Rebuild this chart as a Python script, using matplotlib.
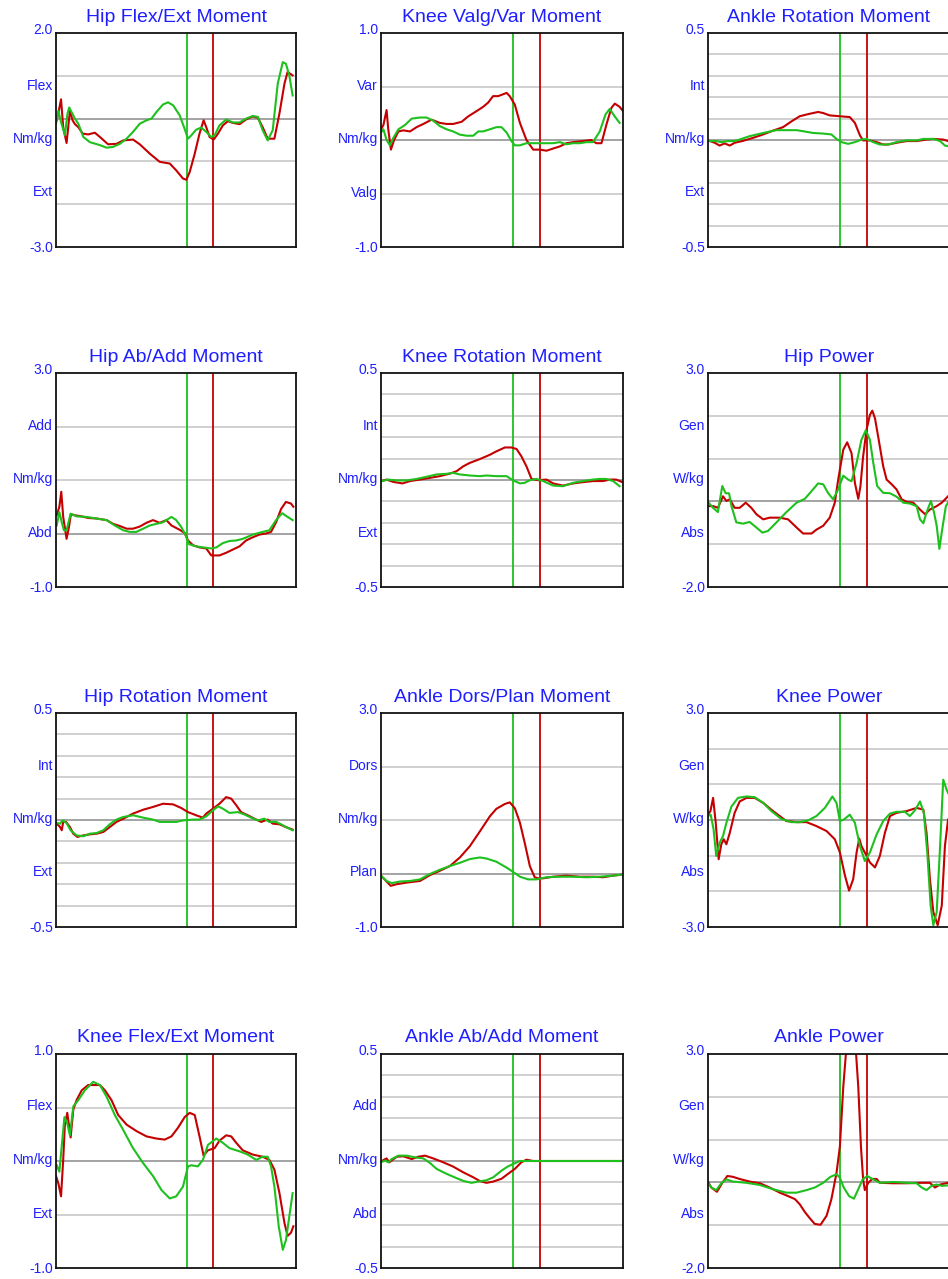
import matplotlib
matplotlib.use("Agg")
import matplotlib.pyplot as plt

plt.rcParams["font.family"] = ["Liberation Sans", "DejaVu Sans"]

RED = "#c40000"
GREEN = "#1ec01e"
BLUE = "#1e1eff"

# gait events, % of cycle
OPP_FOOT_OFF = 54.7
FOOT_OFF = 65.5

# ---- Hip Flex/Ext Moment ----
hfe_xr = [0.3, 1.2, 2.1, 3.0, 4.4, 5.1, 5.8, 6.9, 7.9, 9.3, 11.1, 13.4, 16.2, 18.3, 21.7, 25.2, 28.0, 32.1, 34.9,
          39.1, 43.2, 47.4, 50.1, 52.9, 54.3, 55.7, 57.8, 59.8, 61.5, 62.6, 64.0, 65.7, 67.5, 69.5, 71.6, 73.7,
          76.5, 79.2, 82.0, 84.1, 86.1, 88.2, 91.0, 93.1, 95.2, 96.5, 98.6]
hfe_r = [-0.04, 0.19, 0.45, -0.20, -0.57, -0.20, 0.19, -0.04, -0.13, -0.20, -0.35, -0.37, -0.33, -0.43, -0.60,
         -0.59, -0.51, -0.49, -0.60, -0.82, -1.01, -1.05, -1.21, -1.40, -1.43, -1.25, -0.82, -0.35, -0.04, -0.20,
         -0.43, -0.49, -0.35, -0.16, -0.06, -0.10, -0.13, -0.02, 0.05, 0.02, -0.20, -0.47, -0.47, 0.12, 0.82,
         1.09, 1.01]
hfe_xg = [0.0, 1.0, 1.9, 3.7, 4.8, 5.5, 6.5, 7.9, 9.3, 11.4, 14.1, 18.3, 21.1, 23.8, 26.6, 29.4, 32.1, 34.9, 37.7,
          39.8, 41.8, 44.6, 46.7, 48.8, 51.5, 53.6, 55.0, 56.4, 58.4, 60.5, 62.6, 64.7, 66.1, 68.1, 70.9, 73.7,
          76.5, 79.2, 82.0, 84.1, 86.1, 88.2, 90.3, 92.4, 94.5, 95.8, 97.2, 98.6]
hfe_g = [-0.12, 0.18, -0.04, -0.39, 0.12, 0.26, 0.15, 0.00, -0.12, -0.43, -0.55, -0.62, -0.68, -0.66, -0.59,
         -0.47, -0.31, -0.12, -0.04, 0.00, 0.15, 0.33, 0.38, 0.31, 0.08, -0.24, -0.47, -0.39, -0.26, -0.21, -0.31,
         -0.43, -0.39, -0.16, -0.02, -0.09, -0.09, 0.00, 0.06, 0.04, -0.27, -0.51, -0.27, 0.82, 1.32, 1.28, 1.01,
         0.54]

# ---- Knee Valg/Var Moment ----
kvv_xr = [0.0, 1.0, 2.3, 3.0, 4.1, 5.4, 7.2, 9.2, 12.0, 14.7, 17.5, 20.9, 24.3, 27.1, 29.8, 33.3, 36.0, 39.5,
          42.2, 44.3, 46.3, 48.4, 51.9, 53.2, 55.3, 57.4, 60.1, 62.9, 65.6, 68.4, 71.1, 73.9, 76.6, 79.4, 83.5,
          86.9, 89.0, 91.1, 93.1, 95.2, 96.6, 98.6, 100.0]
kvv_r = [0.10, 0.14, 0.28, 0.10, -0.09, 0.00, 0.08, 0.09, 0.08, 0.12, 0.15, 0.19, 0.16, 0.15, 0.15, 0.17, 0.22,
         0.27, 0.31, 0.35, 0.41, 0.41, 0.44, 0.41, 0.33, 0.16, 0.00, -0.09, -0.09, -0.10, -0.08, -0.06, -0.03,
         -0.02, -0.01, 0.00, -0.03, -0.03, 0.14, 0.30, 0.34, 0.31, 0.27]
kvv_xg = [0.0, 1.0, 2.3, 3.7, 5.1, 7.2, 9.9, 12.7, 16.1, 18.8, 21.6, 24.3, 27.1, 29.8, 32.6, 35.4, 38.1, 40.2,
          42.2, 45.0, 47.7, 49.8, 51.9, 53.9, 55.3, 57.4, 60.1, 62.9, 65.6, 68.4, 71.1, 73.9, 76.6, 79.4, 82.1,
          84.9, 87.6, 90.4, 92.8, 94.5, 96.6, 98.6]
kvv_g = [0.07, 0.10, 0.00, -0.05, 0.02, 0.10, 0.14, 0.20, 0.21, 0.21, 0.18, 0.13, 0.10, 0.08, 0.05, 0.04, 0.04,
         0.08, 0.08, 0.10, 0.12, 0.12, 0.07, -0.01, -0.05, -0.05, -0.03, -0.03, -0.03, -0.03, -0.03, -0.02, -0.04,
         -0.03, -0.03, -0.02, -0.02, 0.08, 0.24, 0.29, 0.22, 0.16]

# ---- Ankle Rotation Moment ----
arm_xr = [0.0, 2.8, 4.8, 6.9, 9.0, 11.0, 14.5, 18.6, 22.8, 26.9, 31.0, 34.5, 37.9, 41.4, 45.5, 47.6, 50.3, 54.5,
          58.6, 60.7, 62.8, 64.1, 66.9, 69.7, 72.4, 74.5, 77.9, 82.1, 86.2, 90.3, 93.1, 97.2, 99.2]
arm_r = [-0.002, -0.013, -0.026, -0.016, -0.026, -0.013, -0.004, 0.010, 0.026, 0.044, 0.060, 0.087, 0.111, 0.121,
         0.131, 0.126, 0.115, 0.111, 0.107, 0.080, 0.021, -0.002, -0.002, -0.010, -0.021, -0.021, -0.013, -0.005,
         -0.005, 0.002, 0.005, 0.002, -0.005]
arm_xg = [0.0, 3.4, 5.5, 8.3, 11.0, 13.8, 17.2, 21.4, 24.1, 28.3, 32.4, 36.6, 39.3, 43.4, 47.6, 51.0, 53.1, 55.2,
          57.9, 60.7, 63.4, 65.5, 68.3, 71.0, 74.5, 77.9, 82.1, 86.2, 89.0, 93.1, 95.9, 97.9, 99.2]
arm_g = [-0.005, -0.005, -0.010, -0.005, -0.005, 0.005, 0.018, 0.029, 0.036, 0.046, 0.046, 0.046, 0.041, 0.033,
         0.030, 0.026, 0.005, -0.010, -0.018, -0.010, 0.002, 0.005, -0.010, -0.021, -0.021, -0.010, -0.002,
         -0.002, 0.005, 0.005, -0.005, -0.026, -0.029]

# ---- Hip Ab/Add Moment ----
haa_xr = [0.3, 1.4, 2.2, 3.0, 4.4, 5.4, 6.2, 7.9, 10.7, 13.4, 16.9, 21.1, 23.8, 26.6, 29.4, 32.1, 34.9, 37.7,
          40.4, 43.2, 46.0, 48.1, 51.5, 53.6, 55.0, 57.1, 59.8, 62.6, 64.7, 68.1, 70.9, 73.7, 76.5, 79.2, 82.0,
          84.8, 87.5, 89.6, 91.7, 93.8, 95.8, 97.9, 98.9]
haa_r = [0.34, 0.50, 0.78, 0.31, -0.10, 0.12, 0.36, 0.34, 0.32, 0.29, 0.28, 0.25, 0.18, 0.14, 0.09, 0.09, 0.13,
         0.20, 0.25, 0.20, 0.25, 0.15, 0.07, 0.01, -0.13, -0.22, -0.26, -0.28, -0.41, -0.41, -0.36, -0.30, -0.24,
         -0.13, -0.07, -0.02, 0.00, 0.03, 0.21, 0.46, 0.59, 0.56, 0.50]
haa_xg = [0.3, 1.4, 2.4, 3.3, 4.4, 6.1, 8.6, 12.7, 16.9, 21.1, 24.5, 28.0, 30.7, 33.5, 36.3, 39.1, 41.8, 44.6,
          48.1, 50.1, 52.2, 54.0, 55.4, 58.4, 61.2, 64.7, 66.8, 69.5, 72.3, 75.1, 77.8, 82.0, 86.1, 88.9, 91.7,
          94.2, 96.5, 98.6]
haa_g = [0.15, 0.40, 0.21, 0.06, 0.06, 0.37, 0.32, 0.31, 0.28, 0.25, 0.15, 0.06, 0.03, 0.03, 0.09, 0.15, 0.18,
         0.21, 0.31, 0.25, 0.12, -0.03, -0.20, -0.24, -0.26, -0.28, -0.26, -0.18, -0.14, -0.13, -0.10, -0.02, 0.03,
         0.06, 0.25, 0.38, 0.31, 0.25]

# ---- Knee Rotation Moment ----
krm_xr = [0.3, 2.3, 5.1, 8.9, 12.0, 16.1, 20.2, 24.3, 28.5, 31.2, 34.0, 36.7, 40.9, 45.0, 47.7, 51.2, 53.9, 56.0,
          58.0, 60.1, 62.2, 64.9, 68.4, 71.1, 75.2, 79.4, 83.5, 87.6, 91.7, 94.5, 97.2, 99.7]
krm_r = [-0.005, 0.002, -0.009, -0.016, -0.005, 0.002, 0.010, 0.018, 0.030, 0.041, 0.064, 0.080, 0.098, 0.118,
         0.134, 0.152, 0.152, 0.145, 0.111, 0.064, 0.005, -0.001, 0.002, -0.016, -0.026, -0.016, -0.010, -0.005,
         -0.005, 0.002, 0.002, -0.010]
krm_xg = [0.3, 3.0, 6.5, 10.6, 14.7, 18.8, 23.0, 27.1, 29.8, 32.6, 36.7, 40.9, 43.6, 47.7, 51.9, 54.6, 57.4, 59.4,
          61.5, 64.2, 67.0, 71.1, 75.2, 79.4, 83.5, 87.6, 90.4, 93.1, 95.9, 98.6]
krm_g = [-0.005, 0.002, -0.002, -0.002, 0.005, 0.015, 0.026, 0.029, 0.033, 0.026, 0.021, 0.018, 0.021, 0.018,
         0.018, -0.002, -0.016, -0.013, -0.001, 0.005, -0.005, -0.026, -0.029, -0.013, -0.005, 0.002, 0.005, 0.005,
         -0.005, -0.029]

# ---- Hip Power ----
hpw_xr = [0.0, 2.1, 4.1, 6.2, 7.6, 9.0, 11.0, 13.1, 15.6, 17.9, 20.0, 22.8, 25.5, 29.7, 33.1, 36.6, 39.3, 42.8,
          44.8, 47.6, 50.3, 52.4, 53.8, 55.9, 57.5, 59.3, 60.7, 62.1, 63.0, 64.1, 65.5, 66.9, 67.9, 69.0, 70.3,
          72.4, 73.8, 75.9, 77.9, 80.0, 82.1, 84.8, 87.6, 89.7, 91.7, 94.5, 96.6, 99.2]
hpw_r = [-0.11, -0.11, -0.15, 0.12, 0.01, 0.05, -0.15, -0.15, -0.03, -0.15, -0.30, -0.42, -0.38, -0.38, -0.42,
         -0.61, -0.75, -0.75, -0.66, -0.57, -0.38, -0.03, 0.51, 1.21, 1.38, 1.13, 0.43, 0.06, 0.36, 1.05, 1.67, 2.02,
         2.12, 1.94, 1.52, 0.82, 0.51, 0.40, 0.28, 0.05, -0.01, -0.03, -0.19, -0.30, -0.19, -0.11, -0.03, 0.12]
hpw_xg = [0.0, 2.1, 4.1, 5.9, 7.3, 8.7, 9.7, 11.7, 14.5, 17.2, 20.0, 22.5, 24.8, 28.3, 32.4, 36.6, 40.0, 42.8,
          45.5, 47.6, 49.7, 51.7, 53.8, 55.9, 57.9, 59.3, 61.4, 63.4, 65.2, 66.9, 68.3, 69.9, 72.4, 75.2, 77.9,
          80.7, 83.4, 86.2, 87.6, 89.0, 90.3, 92.1, 93.4, 94.5, 95.6, 97.0, 98.3, 99.2]
hpw_g = [-0.01, -0.15, -0.25, 0.36, 0.19, 0.19, -0.11, -0.49, -0.52, -0.48, -0.61, -0.73, -0.69, -0.49, -0.25,
         -0.03, 0.06, 0.24, 0.42, 0.40, 0.19, 0.05, 0.28, 0.60, 0.51, 0.47, 0.90, 1.44, 1.66, 1.44, 0.90, 0.36, 0.20,
         0.19, 0.11, -0.03, -0.05, -0.11, -0.42, -0.51, -0.26, 0.01, -0.26, -0.57, -1.11, -0.57, -0.11, -0.03]

# ---- Hip Rotation Moment ----
hrm_xr = [0.3, 1.7, 2.4, 3.0, 4.2, 5.8, 7.2, 8.9, 11.4, 14.1, 16.9, 19.7, 22.4, 25.2, 28.0, 32.1, 36.3, 40.4,
          44.6, 48.8, 52.2, 55.0, 58.4, 61.2, 62.6, 65.4, 68.1, 70.9, 73.0, 75.1, 77.1, 79.9, 82.7, 85.5, 88.2,
          90.3, 93.1, 95.8, 98.6]
hrm_r = [-0.017, -0.033, -0.048, -0.009, -0.009, -0.033, -0.064, -0.079, -0.072, -0.067, -0.064, -0.056, -0.033,
         -0.009, 0.006, 0.030, 0.048, 0.061, 0.076, 0.073, 0.056, 0.037, 0.022, 0.011, 0.030, 0.053, 0.076, 0.107,
         0.100, 0.069, 0.037, 0.022, 0.006, -0.009, 0.002, -0.017, -0.020, -0.033, -0.045]
hrm_xg = [0.3, 1.7, 2.8, 4.4, 6.1, 8.6, 11.4, 14.1, 16.9, 19.7, 22.4, 25.2, 28.0, 32.1, 36.3, 40.4, 43.2, 47.4,
          50.1, 52.9, 57.1, 59.8, 62.6, 65.4, 67.5, 69.5, 72.3, 75.8, 78.5, 81.3, 84.1, 86.8, 88.9, 91.7, 93.8,
          95.8, 98.6]
hrm_g = [-0.014, -0.017, -0.002, -0.014, -0.048, -0.072, -0.076, -0.064, -0.061, -0.048, -0.020, 0.002, 0.014,
         0.022, 0.011, 0.002, -0.009, -0.009, -0.009, -0.002, 0.002, 0.002, 0.017, 0.045, 0.064, 0.053, 0.033,
         0.037, 0.026, 0.011, -0.002, 0.006, -0.009, -0.009, -0.020, -0.033, -0.048]

# ---- Ankle Dors/Plan Moment ----
adp_xr = [0.0, 2.3, 4.0, 6.5, 10.6, 16.1, 20.2, 24.3, 28.5, 32.6, 36.7, 40.9, 45.0, 47.7, 51.2, 53.2, 55.3, 57.4,
          59.4, 61.5, 63.5, 64.9, 67.0, 71.1, 76.6, 82.1, 87.6, 91.7, 95.9, 99.7]
adp_r = [-0.04, -0.15, -0.23, -0.20, -0.17, -0.14, -0.03, 0.05, 0.14, 0.30, 0.51, 0.79, 1.07, 1.21, 1.30, 1.33,
         1.22, 0.95, 0.57, 0.14, -0.07, -0.09, -0.09, -0.06, -0.04, -0.06, -0.06, -0.07, -0.04, -0.02]
adp_xg = [0.0, 2.3, 4.4, 7.8, 12.0, 16.1, 20.2, 24.3, 28.5, 32.6, 36.7, 40.9, 43.6, 47.7, 51.9, 54.6, 57.4, 60.8,
          64.2, 68.4, 73.9, 79.4, 84.9, 90.4, 95.9, 99.7]
adp_g = [-0.04, -0.14, -0.18, -0.15, -0.14, -0.11, -0.01, 0.07, 0.14, 0.20, 0.27, 0.30, 0.28, 0.22, 0.11, 0.03,
         -0.06, -0.11, -0.11, -0.07, -0.06, -0.06, -0.07, -0.06, -0.04, -0.02]

# ---- Knee Power ----
kpw_xr = [0.0, 1.0, 2.1, 3.2, 4.4, 5.5, 6.5, 7.6, 9.0, 11.0, 13.1, 15.9, 19.3, 22.8, 26.9, 32.4, 36.6, 40.7,
          44.8, 49.0, 52.4, 54.5, 56.6, 58.3, 60.0, 61.4, 62.5, 63.4, 64.8, 66.9, 69.0, 71.0, 73.1, 75.2, 77.9,
          82.1, 86.2, 89.0, 90.3, 91.7, 93.1, 94.9, 96.6, 97.9, 99.2]
kpw_r = [0.15, 0.25, 0.62, -0.08, -1.10, -0.68, -0.54, -0.68, -0.36, 0.20, 0.52, 0.62, 0.62, 0.48, 0.25, -0.03,
         -0.06, -0.06, -0.17, -0.31, -0.54, -0.91, -1.56, -1.98, -1.66, -0.91, -0.52, -0.73, -0.91, -1.19, -1.33,
         -1.01, -0.36, 0.11, 0.20, 0.25, 0.34, 0.29, -0.36, -1.66, -2.58, -2.95, -2.40, -0.73, 0.01]
kpw_xg = [0.0, 1.1, 2.3, 3.4, 4.8, 6.2, 7.6, 9.7, 12.4, 15.9, 19.3, 22.8, 26.2, 30.3, 34.5, 37.9, 41.4, 44.8,
          48.3, 51.4, 53.1, 54.5, 56.1, 58.6, 60.7, 62.8, 64.8, 66.9, 69.7, 72.4, 75.2, 77.9, 81.4, 83.4, 85.5,
          87.6, 89.2, 90.6, 92.0, 93.1, 94.5, 95.9, 97.2, 98.6, 99.2]
kpw_g = [0.11, 0.15, -0.26, -1.01, -0.64, -0.45, -0.08, 0.38, 0.62, 0.66, 0.64, 0.48, 0.25, 0.03, -0.06, -0.06,
         -0.01, 0.11, 0.34, 0.66, 0.48, -0.03, 0.01, 0.15, -0.08, -0.73, -1.15, -0.91, -0.40, -0.03, 0.18, 0.23,
         0.23, 0.11, 0.27, 0.52, 0.20, -0.91, -2.40, -2.95, -2.58, -0.73, 1.13, 0.85, 0.76]

# ---- Knee Flex/Ext Moment ----
kfe_xr = [0.0, 1.0, 2.1, 3.0, 3.7, 4.7, 6.1, 7.2, 8.6, 10.7, 13.4, 16.2, 18.3, 20.4, 23.1, 25.9, 29.4, 33.5,
          37.7, 41.8, 45.3, 48.1, 50.8, 53.6, 55.7, 57.8, 59.8, 61.5, 63.3, 66.1, 68.1, 70.9, 73.0, 75.1, 77.8,
          82.0, 86.1, 88.9, 91.0, 93.1, 95.2, 96.5, 97.9, 98.9]
kfe_r = [-0.14, -0.21, -0.33, 0.01, 0.34, 0.45, 0.22, 0.48, 0.57, 0.66, 0.71, 0.71, 0.71, 0.66, 0.57, 0.43, 0.34,
         0.28, 0.23, 0.21, 0.20, 0.23, 0.31, 0.41, 0.45, 0.43, 0.23, 0.05, 0.10, 0.12, 0.19, 0.24, 0.23, 0.17, 0.10,
         0.06, 0.04, 0.01, -0.08, -0.30, -0.58, -0.70, -0.67, -0.61]
kfe_xg = [0.3, 1.4, 2.4, 3.5, 4.7, 5.8, 7.2, 9.3, 12.0, 15.5, 18.3, 21.1, 24.5, 28.0, 32.1, 36.3, 40.4, 43.9,
          47.4, 50.1, 52.9, 55.0, 56.4, 59.1, 61.2, 63.3, 66.8, 69.5, 72.3, 76.5, 79.9, 83.4, 86.1, 88.2, 89.6,
          91.0, 92.8, 94.5, 95.8, 97.2, 98.6]
kfe_g = [-0.04, -0.10, 0.14, 0.41, 0.35, 0.24, 0.51, 0.57, 0.66, 0.74, 0.71, 0.60, 0.43, 0.29, 0.12, -0.02, -0.14,
         -0.27, -0.35, -0.33, -0.24, -0.05, -0.04, -0.05, 0.01, 0.15, 0.21, 0.17, 0.12, 0.09, 0.06, 0.01, 0.04,
         0.04, -0.05, -0.24, -0.61, -0.83, -0.74, -0.52, -0.30]

# ---- Ankle Ab/Add Moment ----
aaa_xr = [0.0, 1.7, 2.3, 3.4, 6.5, 9.2, 12.7, 15.4, 18.2, 21.6, 25.7, 29.8, 34.0, 38.1, 40.9, 43.6, 46.4, 49.8,
          52.5, 55.3, 58.0, 60.1, 62.9, 68.4, 78.0, 89.0, 99.7]
aaa_r = [-0.003, 0.009, 0.012, -0.006, 0.020, 0.022, 0.009, 0.020, 0.025, 0.012, -0.006, -0.026, -0.053, -0.076,
         -0.094, -0.102, -0.096, -0.083, -0.060, -0.037, -0.006, 0.006, 0.0, 0.0, 0.0, 0.0, 0.0]
aaa_xg = [0.0, 1.7, 3.0, 4.4, 7.2, 10.6, 14.0, 17.5, 20.2, 23.0, 27.1, 31.2, 34.0, 37.4, 40.2, 43.6, 46.4, 49.8,
          52.5, 54.6, 57.4, 60.1, 71.1, 84.9, 99.7]
aaa_g = [-0.006, 0.002, -0.006, 0.009, 0.025, 0.025, 0.017, 0.012, -0.009, -0.037, -0.060, -0.080, -0.093, -0.102,
         -0.096, -0.090, -0.076, -0.045, -0.025, -0.014, 0.0, 0.0, 0.0, 0.0, 0.0]

# ---- Ankle Power ----
apw_xr = [0.0, 1.4, 3.7, 5.9, 8.0, 10.3, 13.1, 17.2, 21.4, 25.5, 29.7, 33.1, 35.9, 37.9, 40.0, 42.1, 44.1, 46.5,
          49.0, 51.0, 53.1, 54.5, 55.9, 57.2, 59.3, 61.1, 62.1, 63.2, 64.1, 64.8, 66.2, 67.9, 69.7, 71.0, 76.6,
          82.1, 87.6, 91.7, 93.8, 95.9, 99.2]
apw_r = [0.01, -0.12, -0.22, -0.01, 0.15, 0.13, 0.08, 0.02, -0.02, -0.12, -0.24, -0.32, -0.39, -0.51, -0.69,
         -0.84, -0.97, -0.99, -0.78, -0.39, 0.22, 0.84, 2.23, 3.16, 3.46, 3.08, 2.23, 0.84, 0.07, -0.18, -0.01, 0.08,
         0.08, -0.01, -0.02, -0.02, -0.01, -0.01, -0.12, -0.05, -0.01]
apw_xg = [0.0, 1.4, 3.4, 5.5, 7.6, 10.3, 15.9, 21.4, 26.9, 32.4, 36.6, 40.7, 44.1, 47.6, 50.6, 53.1, 54.5, 56.1,
          58.3, 60.3, 62.1, 63.9, 65.8, 68.3, 71.0, 76.6, 82.1, 86.2, 88.3, 90.3, 92.4, 94.5, 96.6, 99.2]
apw_g = [-0.01, -0.12, -0.18, -0.02, 0.07, 0.02, -0.01, -0.06, -0.16, -0.24, -0.24, -0.18, -0.12, -0.01, 0.13,
         0.19, 0.11, -0.12, -0.32, -0.38, -0.16, 0.07, 0.15, 0.07, -0.01, 0.01, -0.01, -0.02, -0.12, -0.18, -0.08,
         -0.05, -0.08, -0.07]

TENTHS = [-0.4, -0.3, -0.2, -0.1, 0.1, 0.2, 0.3, 0.4]

# title, (ymin, ymax), grid lines, side labels, red x/y, green x/y
panels = [
    ("Hip Flex/Ext Moment", (-3.0, 2.0), [1, -1, -2], ["2.0", "Flex", "Nm/kg", "Ext", "-3.0"],
     hfe_xr, hfe_r, hfe_xg, hfe_g),
    ("Knee Valg/Var Moment", (-1.0, 1.0), [0.5, -0.5], ["1.0", "Var", "Nm/kg", "Valg", "-1.0"],
     kvv_xr, kvv_r, kvv_xg, kvv_g),
    ("Ankle Rotation Moment", (-0.5, 0.5), TENTHS, ["0.5", "Int", "Nm/kg", "Ext", "-0.5"],
     arm_xr, arm_r, arm_xg, arm_g),
    ("Hip Ab/Add Moment", (-1.0, 3.0), [2, 1], ["3.0", "Add", "Nm/kg", "Abd", "-1.0"],
     haa_xr, haa_r, haa_xg, haa_g),
    ("Knee Rotation Moment", (-0.5, 0.5), TENTHS, ["0.5", "Int", "Nm/kg", "Ext", "-0.5"],
     krm_xr, krm_r, krm_xg, krm_g),
    ("Hip Power", (-2.0, 3.0), [2, 1, -1], ["3.0", "Gen", "W/kg", "Abs", "-2.0"],
     hpw_xr, hpw_r, hpw_xg, hpw_g),
    ("Hip Rotation Moment", (-0.5, 0.5), TENTHS, ["0.5", "Int", "Nm/kg", "Ext", "-0.5"],
     hrm_xr, hrm_r, hrm_xg, hrm_g),
    ("Ankle Dors/Plan Moment", (-1.0, 3.0), [2, 1], ["3.0", "Dors", "Nm/kg", "Plan", "-1.0"],
     adp_xr, adp_r, adp_xg, adp_g),
    ("Knee Power", (-3.0, 3.0), [2, 1, -1, -2], ["3.0", "Gen", "W/kg", "Abs", "-3.0"],
     kpw_xr, kpw_r, kpw_xg, kpw_g),
    ("Knee Flex/Ext Moment", (-1.0, 1.0), [0.5, -0.5], ["1.0", "Flex", "Nm/kg", "Ext", "-1.0"],
     kfe_xr, kfe_r, kfe_xg, kfe_g),
    ("Ankle Ab/Add Moment", (-0.5, 0.5), TENTHS, ["0.5", "Add", "Nm/kg", "Abd", "-0.5"],
     aaa_xr, aaa_r, aaa_xg, aaa_g),
    ("Ankle Power", (-2.0, 3.0), [2, 1, -1], ["3.0", "Gen", "W/kg", "Abs", "-2.0"],
     apw_xr, apw_r, apw_xg, apw_g),
]

W, H = 948, 1279
col_left = [56, 381, 708]
col_width = [240, 242, 242]
row_top = [33, 373, 713, 1054]
box_h = 214

fig = plt.figure(figsize=(W / 100, H / 100), dpi=100)

for i, (title, ylim, grid, labels, xr, yr, xg, yg) in enumerate(panels):
    row, col = divmod(i, 3)
    left, top = col_left[col], row_top[row]
    ax = fig.add_axes([left / W, 1 - (top + box_h) / H, col_width[col] / W, box_h / H])
    ax.set_xlim(0, 100)
    ax.set_ylim(*ylim)
    ax.set_xticks([])
    ax.set_yticks([])
    for s in ax.spines.values():
        s.set_linewidth(1.3)
        s.set_color("#111111")
        s.set_zorder(10)

    for g in grid:
        ax.axhline(g, color="#c4c4c4", lw=1.1, zorder=1)
    ax.axhline(0, color="#8a8a8a", lw=1.1, zorder=1)
    ax.axvline(OPP_FOOT_OFF, color=GREEN, lw=1.3, zorder=2)
    ax.axvline(FOOT_OFF, color=RED, lw=1.3, zorder=2)

    ax.plot(xr, yr, color=RED, lw=1.5, zorder=3, solid_joinstyle="round")
    ax.plot(xg, yg, color=GREEN, lw=1.5, zorder=4, solid_joinstyle="round")

    # side labels: value at top/bottom, names at the quarter marks
    offs = [3, 1, 1, 1, -1]
    for frac, lab, dy in zip([1.0, 0.75, 0.5, 0.25, 0.0], labels, offs):
        ax.annotate(lab, xy=(0, frac), xycoords="axes fraction", xytext=(-3, dy),
                    textcoords="offset pixels", ha="right", va="center",
                    color=BLUE, fontsize=10, zorder=5)

    ax.annotate(title, xy=(0.5, 1), xycoords="axes fraction", xytext=(0, 16),
                textcoords="offset pixels", ha="center", va="center",
                color=BLUE, fontsize=14)

fig.savefig("out.png", dpi=100)
